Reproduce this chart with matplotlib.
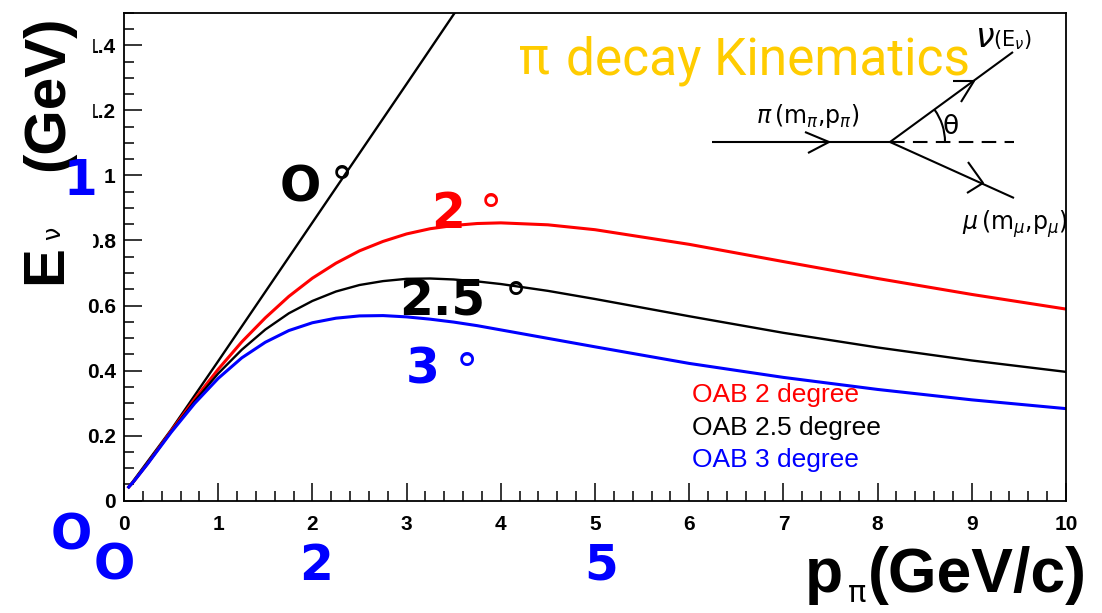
import matplotlib
matplotlib.use('Agg')
import matplotlib.pyplot as plt
from matplotlib.patches import Arc, Rectangle
from matplotlib.ticker import MultipleLocator, FixedLocator, FixedFormatter

plt.rcParams['mathtext.fontset'] = 'dejavusans'

W, H = 1102, 613

# neutrino energy (GeV) vs pion momentum (GeV/c)
p_pi = [0.05, 0.1, 0.25, 0.5, 0.75, 1.0, 1.25, 1.5, 1.75, 2.0, 2.25, 2.5,
        2.75, 3.0, 3.25, 3.5, 3.75, 4.0, 4.5, 5.0, 6.0, 7.0, 8.0, 9.0, 10.0]
e_nu_2deg = [0.042, 0.058, 0.114, 0.214, 0.312, 0.404, 0.488, 0.562, 0.628,
             0.684, 0.730, 0.768, 0.797, 0.820, 0.836, 0.846, 0.852, 0.854,
             0.848, 0.833, 0.788, 0.735, 0.683, 0.634, 0.589]
e_nu_25deg = [0.042, 0.058, 0.114, 0.212, 0.306, 0.391, 0.464, 0.526, 0.576,
              0.614, 0.643, 0.663, 0.675, 0.682, 0.683, 0.680, 0.674, 0.666,
              0.645, 0.620, 0.567, 0.516, 0.471, 0.431, 0.396]
e_nu_3deg = [0.042, 0.058, 0.113, 0.210, 0.299, 0.376, 0.439, 0.487, 0.523,
             0.547, 0.561, 0.568, 0.569, 0.565, 0.558, 0.549, 0.538, 0.525,
             0.499, 0.473, 0.422, 0.379, 0.342, 0.310, 0.283]
p_on_axis = [0.05, 0.5, 1.0, 1.5, 2.0, 2.5, 3.0, 3.5, 4.0]
e_nu_0deg = [0.042, 0.218, 0.429, 0.642, 0.855, 1.068, 1.281, 1.495, 1.708]

x_ticks = list(range(0, 11))
y_ticks = [0, 0.2, 0.4, 0.6, 0.8, 1.0, 1.2, 1.4]
y_tick_labels = ['0', '0.2', '0.4', '0.6', '0.8', '1', '1.2', '1.4']
legend_labels = ['OAB 2 degree', 'OAB 2.5 degree', 'OAB 3 degree']
curve_colors = ['#FF0000', '#000000', '#0000FF']

fig = plt.figure(figsize=(W / 100, H / 100), dpi=100)
ax = fig.add_axes([124 / W, 1 - 500.7 / H, (1066 - 124) / W, (500.7 - 12.7) / H])

ax.plot(p_on_axis, e_nu_0deg, color='black', lw=1.7)
ax.plot(p_pi, e_nu_2deg, color=curve_colors[0], lw=2.2)
ax.plot(p_pi, e_nu_25deg, color=curve_colors[1], lw=1.7)
ax.plot(p_pi, e_nu_3deg, color=curve_colors[2], lw=2.2)

ax.set_xlim(0, 10)
ax.set_ylim(0, 1.5)
ax.xaxis.set_major_locator(FixedLocator(x_ticks))
ax.xaxis.set_minor_locator(MultipleLocator(0.2))
ax.yaxis.set_major_locator(FixedLocator(y_ticks))
ax.yaxis.set_major_formatter(FixedFormatter(y_tick_labels))
ax.yaxis.set_minor_locator(MultipleLocator(0.05))
ax.tick_params(which='both', direction='in', top=False, right=False,
               width=1.1, colors='black')
ax.tick_params(which='major', length=13)
ax.tick_params(which='minor', length=7.5)
ax.tick_params(axis='x', pad=10)
ax.tick_params(axis='y', pad=6)
for lab in ax.get_xticklabels() + ax.get_yticklabels():
    lab.set_fontfamily('Liberation Sans')
    lab.set_fontweight('bold')
    lab.set_fontsize(15)
for s in ax.spines.values():
    s.set_linewidth(1.3)

# overlay in pixel coordinates for the slide annotations
ov = fig.add_axes([0, 0, 1, 1], zorder=5)
ov.set_xlim(0, W)
ov.set_ylim(H, 0)
ov.axis('off')

# white box that hides part of the y tick labels, as in the slide
ov.add_patch(Rectangle((0, 0), 92, 288, color='white', zorder=0.5))

big = dict(family='Liberation Sans', fontweight='bold', va='baseline', ha='left')
ov.text(61, 284, 'E', fontsize=42, rotation=90, rotation_mode='anchor', **big)
ov.text(60, 240, 'ν', fontsize=17, rotation=90, rotation_mode='anchor',
        family='DejaVu Sans', va='baseline', ha='left')
ov.text(63, 171, '(GeV)', fontsize=42, rotation=90, rotation_mode='anchor', **big)

ov.text(805, 592, 'p', fontsize=45, **big)
ov.text(848, 602, 'π', fontsize=22, family='DejaVu Sans', va='baseline', ha='left')
ov.text(868, 592, '(GeV/c)', fontsize=45, **big)

title = dict(fontsize=37, family='Roboto', color='#FFCC00', va='baseline')
ov.text(519, 74, 'π', ha='left', **title)
ov.text(970, 74, 'decay Kinematics', ha='right', **title)

ann = dict(family='DejaVu Sans', fontweight='bold', fontsize=35,
           va='baseline', ha='left')
ov.text(280, 202, 'O', color='black', **ann)
ov.text(431, 228, '2', color=curve_colors[0], **ann)
ov.text(399, 316, '2.5', color='black', **ann)
ov.text(406, 383, '3', color=curve_colors[2], **ann)
ov.text(64, 195, '1', color=curve_colors[2], **ann)
ov.text(51, 550, 'O', color=curve_colors[2], **ann)
ov.text(94, 580, 'O', color=curve_colors[2], **ann)
ov.text(299, 580, '2', color=curve_colors[2], **ann)
ov.text(584, 580, '5', color=curve_colors[2], **ann)

deg = dict(family='DejaVu Sans', fontsize=32, va='baseline', ha='center')
ov.text(342, 198, '°', color='black', **deg)
ov.text(491, 226, '°', color=curve_colors[0], **deg)
ov.text(516, 314, '°', color='black', **deg)
ov.text(467, 385, '°', color=curve_colors[2], **deg)

for lab, col, yb in zip(legend_labels, curve_colors, [401.7, 435, 466.7]):
    ov.text(692, yb, lab, color=col, fontsize=19, family='Liberation Sans',
            va='baseline', ha='left')

# decay sketch
lk = dict(color='black', lw=1.5, solid_capstyle='butt')
ov.plot([712, 890], [142, 142], **lk)
ov.plot([805, 829, 808], [132, 142, 153], **lk)
ov.plot([890, 1014], [142, 142], color='black', lw=1.5, ls=(0, (7, 4)))
ov.plot([890, 1013], [142, 52], **lk)
ov.plot([953, 974, 961], [81, 81, 102], **lk)
ov.plot([890, 1014], [142, 198], **lk)
ov.plot([968, 983, 967], [162, 183, 193], **lk)
ov.add_patch(Arc((890, 142), 110, 110, theta1=-36, theta2=0, color='black', lw=1.5))
ov.text(943, 134, 'θ', fontsize=19, family='DejaVu Sans', va='baseline', ha='left')
ov.text(756, 123, r'$\pi\,(\mathrm{m}_{\pi}{,}\mathrm{p}_{\pi})$', fontsize=17,
        va='baseline', ha='left')
ov.text(975, 47, r'$\nu$', fontsize=24, va='baseline', ha='left')
ov.text(993, 46, r'$(\mathrm{E}_{\nu})$', fontsize=15, va='baseline', ha='left')
ov.text(962, 230, r'$\mu\,(\mathrm{m}_{\mu}{,}\mathrm{p}_{\mu})$', fontsize=17,
        va='baseline', ha='left')

fig.savefig('out.png', dpi=100)
